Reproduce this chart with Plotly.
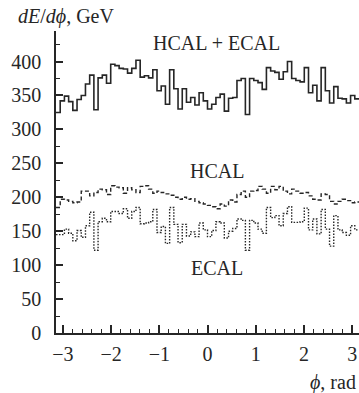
import numpy as np
import plotly.graph_objects as go

# 72 bins in phi from -pi to pi
n_bins = 72
total = [325, 342, 349, 341, 328, 344, 350, 367, 380, 329, 376, 380, 368, 396, 394, 390,
         389, 383, 390, 402, 377, 379, 376, 388, 357, 364, 337, 388, 360, 330, 360, 340,
         347, 336, 354, 342, 330, 337, 347, 352, 327, 346, 347, 372, 375, 322, 375, 372,
         369, 359, 391, 386, 384, 374, 385, 400, 375, 372, 370, 391, 354, 365, 342, 391,
         357, 339, 363, 346, 345, 339, 350, 345]
hcal = [185, 197, 196, 194, 192, 193, 209, 209, 202, 207, 212, 211, 204, 217, 215, 214,
        206, 214, 211, 207, 216, 217, 212, 206, 209, 207, 205, 203, 200, 197, 200, 197,
        198, 194, 192, 190, 188, 186, 183, 190, 187, 196, 193, 204, 209, 200, 209, 210,
        216, 212, 206, 216, 211, 216, 209, 205, 212, 209, 206, 207, 202, 197, 196, 205,
        204, 194, 190, 194, 197, 195, 192, 193]
ecal = [145, 145, 153, 147, 136, 151, 141, 158, 178, 122, 164, 169, 164, 179, 179, 176,
        183, 169, 179, 185, 161, 162, 164, 182, 148, 157, 132, 185, 160, 133, 160, 143,
        149, 142, 162, 152, 142, 151, 164, 162, 140, 150, 154, 168, 166, 122, 166, 162,
        153, 147, 185, 170, 173, 158, 176, 186, 163, 163, 164, 184, 152, 168, 146, 182,
        153, 128, 173, 152, 148, 144, 158, 152]

x_ticks = [-3, -2, -1, 0, 1, 2, 3]
x_ticktext = ["\u22123", "\u22122", "\u22121", "0", "1", "2", "3"]
y_ticks = [0, 50, 100, 150, 200, 250, 300, 350, 400]

edges = np.linspace(-np.pi, np.pi, n_bins + 1)
FONT = "Liberation Serif"
INK = "#262626"


def step(vals):
    return list(vals) + [vals[-1]]


fig = go.Figure()
fig.add_trace(go.Scatter(x=edges, y=step(total), mode="lines", line_shape="hv",
                         line=dict(color=INK, width=1.6), name="HCAL + ECAL"))
fig.add_trace(go.Scatter(x=edges, y=step(hcal), mode="lines", line_shape="hv",
                         line=dict(color=INK, width=1.4, dash="4px,2.5px"), name="HCAL"))
fig.add_trace(go.Scatter(x=edges, y=step(ecal), mode="lines", line_shape="hv",
                         line=dict(color=INK, width=1.4, dash="1.5px,1.5px"), name="ECAL"))

fig.update_layout(
    width=359, height=393,
    margin=dict(l=56, r=0, t=31, b=60),
    paper_bgcolor="white", plot_bgcolor="white",
    showlegend=False,
    font=dict(family=FONT, size=20, color=INK),
    xaxis=dict(range=[-np.pi, np.pi], tickmode="array", tickvals=x_ticks, ticktext=x_ticktext,
               ticks="inside", ticklen=8, tickwidth=1.5, tickcolor=INK,
               showline=True, linecolor=INK, linewidth=1.6, showgrid=False, zeroline=False,
               minor=dict(tickmode="linear", tick0=0, dtick=0.2, ticks="inside", ticklen=4,
                          tickwidth=1.3, tickcolor=INK, showgrid=False),
               tickfont=dict(family=FONT, size=20, color=INK), ticklabelstandoff=2),
    yaxis=dict(range=[0, 445], tickmode="array", tickvals=y_ticks,
               ticks="inside", ticklen=7, tickwidth=1.5, tickcolor=INK,
               showline=True, linecolor=INK, linewidth=1.6, showgrid=False, zeroline=False,
               minor=dict(tickmode="linear", tick0=0, dtick=25, ticks="inside", ticklen=4,
                          tickwidth=1.3, tickcolor=INK, showgrid=False),
               tickfont=dict(family=FONT, size=20, color=INK), ticklabelstandoff=9),
    annotations=[
        dict(text="<i>dE</i>/<i>d\u03d5</i>, GeV", xref="paper", yref="paper",
             x=(16 - 56) / 303, y=1 + (31 - 16) / 302, xanchor="left", yanchor="middle",
             showarrow=False, font=dict(family=FONT, size=20, color=INK)),
        dict(text="<i>\u03d5</i>, rad", xref="paper", yref="paper",
             x=(358 - 56) / 303, y=(333 - 382) / 302, xanchor="right", yanchor="middle",
             showarrow=False, font=dict(family=FONT, size=20, color=INK)),
        dict(text="HCAL + ECAL", x=0.18, y=428, xref="x", yref="y", showarrow=False,
             font=dict(family=FONT, size=20, color=INK)),
        dict(text="HCAL", x=0.2, y=238, xref="x", yref="y", showarrow=False,
             font=dict(family=FONT, size=20, color=INK)),
        dict(text="ECAL", x=0.2, y=96, xref="x", yref="y", showarrow=False,
             font=dict(family=FONT, size=20, color=INK)),
    ],
)

fig.write_html("out.html", config={"displayModeBar": False},
               post_script="document.body.style.margin='0px';document.body.style.overflow='hidden';")
